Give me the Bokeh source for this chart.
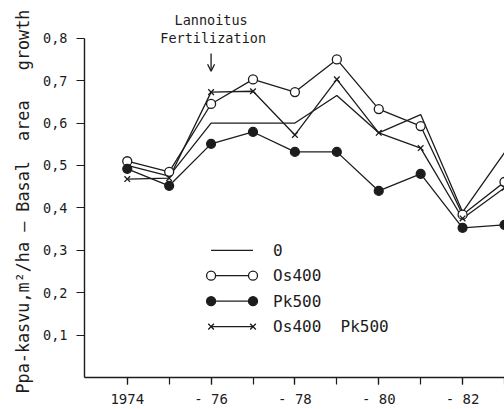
from bokeh.plotting import figure
from bokeh.models import FixedTicker, Label, Arrow, OpenHead, Title
from bokeh.embed import file_html
from bokeh.resources import INLINE

# Basal area growth, m2/ha per year, by treatment
years = [1974, 1975, 1976, 1977, 1978, 1979, 1980, 1981, 1982, 1983]
control = [0.50, 0.475, 0.60, 0.60, 0.60, 0.665, 0.577, 0.62, 0.39, 0.53]
os400 = [0.51, 0.485, 0.645, 0.703, 0.673, 0.75, 0.633, 0.593, 0.384, 0.461]
pk500 = [0.492, 0.452, 0.551, 0.579, 0.532, 0.532, 0.44, 0.48, 0.353, 0.36]
os400_pk500 = [0.468, 0.47, 0.673, 0.675, 0.572, 0.703, 0.577, 0.541, 0.375, 0.447]

NB = "\u00a0"  # keeps repeated spaces in the SVG text
series_names = ["0", "Os400", "Pk500", "Os400" + NB * 2 + "Pk500"]
x_tick_labels = {1974: "1974", 1976: "-" + NB + "76", 1978: "-" + NB + "78",
                 1980: "-" + NB + "80", 1982: "-" + NB + "82"}
y_ticks = [0.1, 0.2, 0.3, 0.4, 0.5, 0.6, 0.7, 0.8]
y_title = ("Ppa-kasvu,m\u00b2/ha" + NB + "\u2013" + NB + "Basal" + NB * 2 +
           "area" + NB * 3 + "growth")
fertilization_year = 1976

FONT = "DejaVu Sans Mono"
INK = "#1c1c1c"

p = figure(width=504, height=409, output_backend="svg", toolbar_location=None,
           x_range=(1972.98, 1983.0), y_range=(0.0, 0.889),
           min_border_left=84, min_border_right=0, min_border_top=0,
           min_border_bottom=0)
p.outline_line_color = None
p.xgrid.visible = False
p.ygrid.visible = False
p.background_fill_color = "white"

# axes
p.xaxis.ticker = FixedTicker(ticks=sorted(x_tick_labels), minor_ticks=years)
p.xaxis.major_label_overrides = {k: v for k, v in x_tick_labels.items()}
p.yaxis.ticker = FixedTicker(ticks=y_ticks)
p.yaxis.major_label_overrides = {v: f"{v:.1f}".replace(".", ",") for v in y_ticks}
p.yaxis.bounds = (0, 0.8)
for ax in (p.xaxis[0], p.yaxis[0]):
    ax.axis_line_color = INK
    ax.axis_line_width = 1.4
    ax.major_tick_line_color = INK
    ax.minor_tick_line_color = INK
    ax.major_tick_line_width = 1.2
    ax.minor_tick_line_width = 1.2
    ax.major_tick_in = 0
    ax.minor_tick_in = 0
    ax.major_label_text_font = FONT
    ax.major_label_text_color = INK
p.xaxis.major_label_text_font_size = "14px"
p.yaxis.major_label_text_font_size = "13.5px"
p.xaxis.major_tick_out = 7
p.xaxis.minor_tick_out = 7
p.xaxis.major_label_standoff = 6
p.yaxis.major_tick_out = 8
p.yaxis.minor_tick_out = 0
p.yaxis.major_label_standoff = 9

# vertical title, starting a little below the x axis line
p.add_layout(Title(text=y_title, align="left", offset=-16, text_font=FONT,
                   text_font_size="16.8px", text_font_style="normal",
                   text_color=INK, standoff=15), "left")

# series
lw = 1.3
p.line(years, control, line_color=INK, line_width=lw)
p.line(years, os400, line_color=INK, line_width=lw)
p.line(years, pk500, line_color=INK, line_width=lw)
p.line(years, os400_pk500, line_color=INK, line_width=lw)
p.scatter(years, os400, marker="circle", size=9, fill_color="white",
          line_color=INK, line_width=1.3)
p.scatter(years, pk500, marker="circle", size=9, fill_color=INK,
          line_color=INK, line_width=1.2)
p.scatter(years, os400_pk500, marker="x", size=8, line_color=INK, line_width=1.3)

# legend drawn as sample segments
leg_x = [fertilization_year, fertilization_year + 1]
leg_y0, leg_dy = 0.30, 0.06
styles = [None, ("circle", "white"), ("circle", INK), ("x", None)]
for i, (name, st) in enumerate(zip(series_names, styles)):
    yy = leg_y0 - i * leg_dy
    p.line(leg_x, [yy, yy], line_color=INK, line_width=lw)
    if st is not None:
        m, fc = st
        if m == "x":
            p.scatter(leg_x, [yy, yy], marker="x", size=8, line_color=INK, line_width=1.3)
        else:
            p.scatter(leg_x, [yy, yy], marker="circle", size=9, fill_color=fc,
                      line_color=INK, line_width=1.3)
    p.add_layout(Label(x=leg_x[1] + 0.48, y=yy, text=name, text_font=FONT,
                       text_font_size="16px", text_color=INK,
                       text_baseline="middle", text_align="left"))

# fertilization note and arrow
p.add_layout(Label(x=fertilization_year, y=0.842, text="Lannoitus", text_font=FONT,
                   text_font_size="13.5px", text_color=INK, text_align="center",
                   text_baseline="middle"))
p.add_layout(Label(x=fertilization_year + 0.05, y=0.800, text="Fertilization", text_font=FONT,
                   text_font_size="13.5px", text_color=INK, text_align="center",
                   text_baseline="middle"))
p.add_layout(Arrow(x_start=fertilization_year, y_start=0.764,
                   x_end=fertilization_year, y_end=0.722,
                   line_color=INK, line_width=1.3,
                   end=OpenHead(size=7, line_color=INK, line_width=1.3)))

open("out.html", "w").write(file_html(p, INLINE))
